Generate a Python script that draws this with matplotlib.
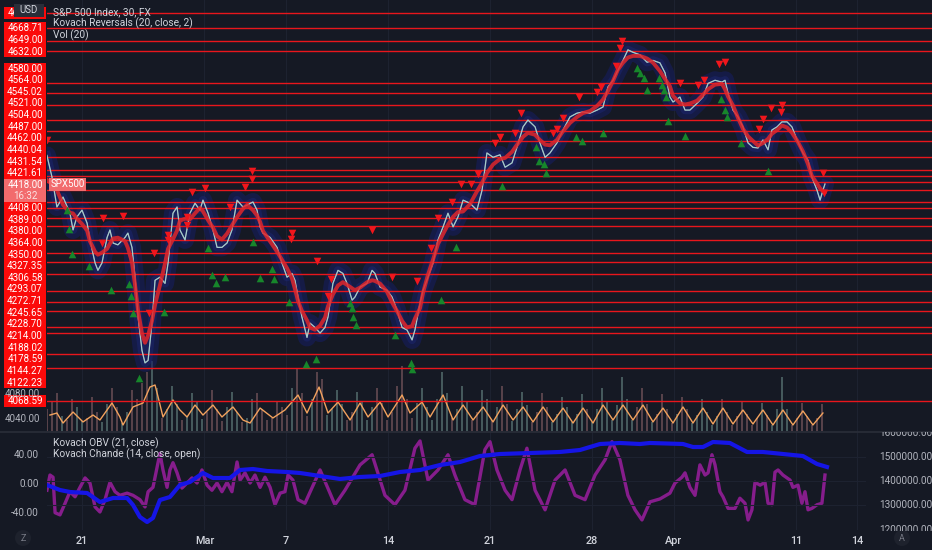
import numpy as np
import pandas as pd
import matplotlib
matplotlib.use("Agg")
import matplotlib.pyplot as plt
from matplotlib.patches import Rectangle, Circle
from matplotlib.transforms import Bbox

plt.rcParams['font.family'] = ['Roboto', 'DejaVu Sans']

# ---------------- data ----------------
x_tick_days = [0, 6, 10, 15, 20, 25, 29, 35, 38]
x_tick_labels = ['21', 'Mar', '7', '14', '21', '28', 'Apr', '11', '14']

# price path: time in trading days from Feb 21, value in index points
price_t = [-1.72, -1.47, -1.23, -0.93, -0.59, -0.44, -0.25, 0.00, 0.25, 0.39,
           0.64, 0.78, 0.98, 1.23, 1.37, 1.52, 1.76, 2.11, 2.25, 2.45,
           2.60, 2.75, 2.94, 3.09, 3.24, 3.43, 3.58, 3.82, 4.07, 4.22,
           4.46, 4.66, 4.80, 5.05, 5.29, 5.54, 5.78, 5.93, 6.18, 6.42,
           6.62, 6.86, 7.11, 7.35, 7.60, 7.89, 8.09, 8.38, 8.58, 8.73,
           8.87, 9.22, 9.56, 9.80, 10.05, 10.29, 10.44, 10.59, 10.78, 11.03,
           11.18, 11.42, 11.67, 11.91, 12.06, 12.30, 12.55, 12.79, 12.99, 13.24,
           13.38, 13.63, 13.97, 14.22, 14.36, 14.61, 14.95, 15.20, 15.44, 15.69,
           15.93, 16.18, 16.32, 16.57, 16.72, 16.96, 17.21, 17.45, 17.70, 17.94,
           18.19, 18.43, 18.68, 19.02, 19.36, 19.61, 19.85, 20.15, 20.49, 20.74,
           21.08, 21.32, 21.62, 21.86, 22.21, 22.45, 22.70, 22.94, 23.28, 23.58,
           23.92, 24.26, 24.56, 24.90, 25.25, 25.54, 25.78, 26.03, 26.27, 26.52,
           26.76, 27.01, 27.35, 27.70, 27.99, 28.33, 28.58, 28.82, 28.97, 29.31,
           29.56, 29.80, 30.15, 30.44, 30.69, 31.03, 31.37, 31.52, 31.67, 31.91,
           32.16, 32.40, 32.65, 32.89, 33.14, 33.38, 33.63, 33.82, 34.07, 34.31,
           34.56, 34.80, 35.05, 35.34, 35.59, 35.78, 36.03, 36.18, 36.32, 36.42]
price_c = [4464, 4429, 4381, 4397, 4371, 4344, 4365, 4376, 4355, 4328,
           4291, 4279, 4291, 4332, 4344, 4323, 4320, 4332, 4339, 4316,
           4268, 4204, 4150, 4130, 4134, 4194, 4263, 4268, 4258, 4291,
           4371, 4381, 4344, 4328, 4371, 4387, 4376, 4392, 4371, 4344,
           4316, 4316, 4323, 4344, 4392, 4381, 4384, 4389, 4376, 4349,
           4339, 4332, 4316, 4291, 4268, 4274, 4263, 4236, 4204, 4171,
           4194, 4187, 4178, 4187, 4204, 4258, 4279, 4274, 4258, 4231,
           4236, 4252, 4258, 4279, 4274, 4252, 4247, 4236, 4215, 4187,
           4183, 4167, 4183, 4226, 4247, 4268, 4291, 4328, 4349, 4371,
           4349, 4365, 4392, 4387, 4376, 4408, 4468, 4461, 4465, 4445,
           4452, 4477, 4510, 4521, 4510, 4484, 4461, 4468, 4484, 4505,
           4526, 4532, 4534, 4532, 4537, 4542, 4574, 4585, 4601, 4617,
           4634, 4630, 4626, 4614, 4617, 4613, 4597, 4558, 4550, 4558,
           4537, 4537, 4548, 4558, 4580, 4585, 4582, 4585, 4564, 4537,
           4526, 4510, 4484, 4477, 4476, 4489, 4473, 4505, 4510, 4518,
           4518, 4510, 4489, 4468, 4456, 4429, 4408, 4392, 4408, 4418]

sell_t = [-1.72, 0.98, 1.03, 2.01, 3.28, 3.53, 4.22, 4.22, 5.15, 5.15,
          5.39, 6.03, 7.25, 7.99, 8.33, 8.33, 10.25, 10.29, 11.52, 12.06,
          12.21, 14.22, 15.20, 16.42, 17.11, 17.45, 18.14, 18.58, 19.07, 19.41,
          20.25, 20.49, 21.23, 21.52, 23.09, 23.28, 23.58, 24.36, 25.25, 25.44,
          26.18, 26.37, 26.47, 29.31, 30.20, 30.49, 31.23, 31.52, 33.19, 33.38,
          33.77, 34.26, 34.31, 36.32, 36.37]
sell_p = [4489, 4323, 4363, 4366, 4210, 4307, 4336, 4328, 4365, 4352,
          4405, 4411, 4381, 4413, 4439, 4426, 4329, 4339, 4294, 4237,
          4265, 4344, 4268, 4262, 4315, 4363, 4389, 4418, 4418, 4434,
          4484, 4493, 4500, 4532, 4500, 4506, 4524, 4558, 4566, 4574,
          4608, 4637, 4648, 4580, 4577, 4585, 4611, 4614, 4506, 4522,
          4540, 4534, 4545, 4435, 4403]

buy_t = [-0.74, -0.64, -0.49, 0.34, 1.42, 2.30, 2.40, 2.50, 2.79, 4.02,
         6.18, 6.37, 6.57, 7.01, 8.38, 8.73, 9.31, 9.41, 10.15, 10.98,
         11.47, 13.14, 13.24, 13.28, 13.43, 15.34, 16.13, 16.18, 17.60, 18.33,
         20.59, 22.25, 22.40, 22.65, 22.75, 24.22, 24.51, 25.54, 27.21, 27.35,
         27.55, 27.70, 28.28, 28.43, 28.53, 28.63, 28.73, 29.56, 31.32, 31.52,
         31.62, 32.30, 33.63]
buy_p = [4376, 4345, 4305, 4286, 4247, 4257, 4237, 4210, 4105, 4212,
         4315, 4271, 4258, 4268, 4324, 4266, 4281, 4265, 4228, 4128,
         4136, 4226, 4218, 4204, 4191, 4175, 4130, 4120, 4231, 4316,
         4415, 4477, 4455, 4450, 4435, 4493, 4487, 4500, 4605, 4596,
         4588, 4569, 4588, 4577, 4569, 4558, 4519, 4495, 4555, 4537,
         4526, 4484, 4439]

levels = [4693.00, 4668.71, 4649.00, 4632.00, 4580.00, 4564.00, 4545.02, 4521.00,
          4504.00, 4487.00, 4462.00, 4440.04, 4431.54, 4421.61, 4408.00, 4389.00,
          4380.00, 4364.00, 4350.00, 4327.35, 4306.58, 4293.07, 4272.71, 4245.65,
          4228.70, 4214.00, 4188.02, 4178.59, 4144.27, 4122.23, 4068.59]
last_price = 4418.00
last_time = '16:32'
symbol = 'SPX500'
price_ticks = [4080.00, 4040.00]

volume = [20, 28, 35, 14, 10, 30, 22, 9, 12, 32,
          18, 8, 25, 40, 22, 7, 18, 38, 30, 45,
          55, 65, 40, 12, 20, 42, 25, 10, 14, 35,
          28, 11, 18, 38, 20, 9, 22, 36, 18, 8,
          12, 30, 35, 20, 10, 12, 28, 22, 15, 40,
          58, 35, 14, 30, 55, 48, 15, 20, 38, 25,
          10, 18, 36, 28, 10, 22, 40, 26, 10, 18,
          42, 60, 30, 12, 26, 40, 22, 10, 30, 55,
          35, 12, 20, 42, 28, 10, 18, 38, 30, 10,
          22, 42, 25, 9, 20, 36, 24, 8, 18, 35,
          22, 8, 16, 32, 22, 8, 16, 34, 20, 8,
          20, 40, 28, 10, 24, 50, 30, 10, 22, 40,
          25, 8, 16, 34, 20, 7, 16, 32, 20, 7,
          15, 30, 18, 6, 14, 30, 18, 6, 14, 28,
          16, 6, 12, 26, 15, 6, 20, 50, 20, 6,
          12, 26, 14, 6, 12, 25]

vol_ma_t = [-1.57, -1.23, -0.93, -0.44, 0.05, 0.54, 0.88, 1.47, 1.86, 2.01,
            2.50, 2.99, 3.33, 3.58, 3.73, 3.97, 4.46, 4.80, 5.15, 5.54,
            5.93, 6.42, 6.86, 7.40, 7.89, 8.24, 8.73, 9.36, 9.95, 10.59,
            11.03, 11.62, 12.06, 12.55, 13.14, 13.63, 14.02, 14.61, 15.00, 15.69,
            16.08, 16.67, 17.06, 17.70, 18.19, 18.68, 19.17, 19.66, 20.15, 20.64,
            21.13, 21.62, 22.11, 22.60, 23.09, 23.58, 24.07, 24.56, 25.05, 25.54,
            26.03, 26.52, 27.01, 27.50, 27.99, 28.48, 28.97, 29.46, 29.95, 30.44,
            30.93, 31.42, 31.91, 32.40, 32.89, 33.38, 33.87, 34.36, 34.85, 35.34,
            35.83, 36.32]
vol_ma = [14.8, 16.7, 7.4, 17.6, 8.4, 14.8, 10.2, 26.0, 13.0, 5.6,
          22.3, 26.0, 40.8, 42.7, 31.6, 13.0, 28.8, 19.5, 13.0, 24.1,
          14.8, 24.1, 13.0, 22.3, 10.2, 7.4, 21.3, 12.1, 19.5, 33.4,
          16.7, 40.8, 16.7, 26.9, 10.2, 26.0, 13.0, 26.9, 13.0, 33.4,
          16.7, 26.9, 13.0, 33.4, 10.2, 24.1, 10.2, 22.3, 8.4, 24.1,
          10.2, 22.3, 8.4, 22.3, 8.4, 21.3, 7.4, 21.3, 7.4, 24.1,
          10.2, 24.1, 10.2, 24.1, 8.4, 21.3, 7.4, 22.3, 7.4, 21.3,
          6.5, 21.3, 6.5, 19.5, 6.5, 19.5, 5.6, 19.5, 5.6, 18.6,
          5.6, 16.7]

obv_t = [-1.72, -1.08, -0.59, 0.25, 0.88, 1.52, 2.21, 2.50, 2.84, 3.19,
         3.48, 3.82, 4.31, 4.80, 5.29, 5.93, 6.42, 7.25, 7.75, 8.38,
         9.07, 10.05, 10.69, 11.67, 12.65, 13.63, 14.61, 15.59, 16.57, 17.55,
         18.53, 19.51, 20.49, 21.96, 23.43, 24.41, 25.39, 26.37, 27.35, 27.84,
         29.46, 29.95, 30.44, 30.93, 31.76, 32.60, 33.38, 34.36, 35.34, 36.03,
         36.52]
obv = [1384300, 1363600, 1355400, 1351200, 1314000, 1330600, 1330600, 1301700, 1252100, 1231400,
       1248000, 1322300, 1334700, 1384300, 1396700, 1433900, 1413200, 1413200, 1446300, 1450400,
       1442200, 1438000, 1433900, 1421500, 1409100, 1417400, 1421500, 1438000, 1446300, 1466900,
       1479300, 1504100, 1512400, 1516500, 1520700, 1528900, 1553700, 1557900, 1553700, 1557900,
       1553700, 1541300, 1541300, 1562000, 1557900, 1520700, 1520700, 1512400, 1504100, 1471100,
       1458700]

chande_t = [-1.72, -1.57, -1.42, -1.32, -1.08, -0.83, -0.59, -0.34, -0.10, 0.15,
            0.39, 0.64, 0.88, 1.13, 1.37, 1.62, 1.86, 2.21, 2.50, 2.84,
            3.09, 3.24, 3.48, 3.68, 3.82, 3.97, 4.17, 4.31, 4.46, 4.66,
            4.90, 5.15, 5.39, 5.64, 5.88, 6.13, 6.37, 6.62, 6.86, 7.11,
            7.35, 7.60, 7.75, 7.99, 8.24, 8.48, 8.73, 8.97, 9.22, 9.46,
            9.71, 9.95, 10.10, 10.34, 10.59, 10.93, 11.67, 12.40, 12.89, 13.63,
            14.22, 14.85, 15.34, 15.83, 16.32, 16.57, 16.96, 17.45, 17.94, 18.28,
            18.77, 19.26, 19.75, 20.00, 20.34, 20.74, 21.08, 21.47, 21.81, 22.21,
            22.70, 23.19, 23.68, 24.17, 24.66, 25.15, 25.64, 25.98, 26.37, 26.76,
            27.11, 27.45, 27.84, 28.33, 28.82, 29.07, 29.41, 29.56, 29.80, 30.05,
            30.29, 30.54, 30.69, 30.88, 31.03, 31.27, 31.42, 31.67, 32.01, 32.25,
            32.50, 32.65, 32.84, 32.99, 33.24, 33.48, 33.63, 33.82, 33.97, 34.12,
            34.36, 34.71, 34.85, 35.10, 35.29, 35.44, 35.59, 35.78, 36.03, 36.27,
            36.42]
chande = [-10, 11, 8, -41, -44, -28, -12, -19, -6, 7,
          0, -33, -40, -23, 1, -12, -17, -14, -17, -23,
          -33, -12, -6, 22, 41, 18, -6, 18, 28, 14,
          -7, 0, 7, 0, 18, -3, -10, 0, -12, 1,
          -12, 29, 4, 14, 0, 11, -6, 8, -6, -30,
          -14, -12, 11, 4, -23, -28, 18, -30, -10, 25,
          39, -17, -30, -10, 48, 58, 4, 18, 39, 11,
          -23, -30, 46, 57, 18, -10, -23, 18, 48, -10,
          -37, 4, 18, -17, -23, 11, 32, 57, 32, -17,
          -37, -51, -26, -22, -14, 0, 8, 14, -6, -17,
          25, 11, 14, 39, 25, -12, -19, -35, -35, -21,
          -28, -51, -37, 1, -3, 1, -28, -30, 15, 18,
          11, 4, -6, -3, -28, -12, -37, -35, -30, -28,
          11]
chande_ticks = [40, 0, -40]
obv_ticks = [1600000, 1500000, 1400000, 1300000, 1200000]

legend_main = ['S&P 500 Index, 30, FX', 'Kovach Reversals (20, close, 2)', 'Vol (20)']
legend_low = ['Kovach OBV (21, close)', 'Kovach Chande (14, close, open)']
currency = 'USD'

# ---------------- layout / style ----------------
W, H, DPI = 932, 550, 100
BG = '#151924'
GRID = '#1d2230'
TXT = '#b2b5be'
LEG = '#d1d4dc'
LINE_RED = '#e8161c'
LBL_RED = '#fb0a0a'
LAST_RED = '#f26b6d'

PLOT_L, SPLIT_Y, LOW_BOT, LOW_R = 47, 431, 530, 866
DAY0_PX, DAY_PX = 82.0, 20.4
PRICE_REF, PRICE_REF_Y, PRICE_PER_PX = 4418.0, 184.0, 1.61
CH_ZERO_Y, CH_PER_PX = 483.0, 1.38
OBV_REF, OBV_REF_Y, OBV_PER_PX = 1500000.0, 457.0, 100000 / 24.2
VOL_T0, VOL_STEP, VOL_TOP = -1.716, 0.245, 400


def day_at(px):
    return (px - DAY0_PX) / DAY_PX


def rect(l, t, r, b):
    return [l / W, 1 - b / H, (r - l) / W, (b - t) / H]


fig = plt.figure(figsize=(W / DPI, H / DPI), dpi=DPI)
fig.patch.set_facecolor(BG)

# ---- main price panel ----
ax = fig.add_axes(rect(PLOT_L, 0, W, SPLIT_Y))
axv = ax.twinx()
for a in (ax, axv):
    a.patch.set_visible(False)
    for s in a.spines.values():
        s.set_visible(False)
    a.set_yticks([])
    a.tick_params(axis='x', length=0, labelbottom=False)
ax.set_zorder(2)
axv.set_zorder(1)
ax.set_xlim(day_at(PLOT_L), day_at(W))
ax.set_ylim(PRICE_REF - (SPLIT_Y - PRICE_REF_Y) * PRICE_PER_PX,
            PRICE_REF + PRICE_REF_Y * PRICE_PER_PX)
axv.set_ylim(0, VOL_TOP)

for d in x_tick_days:
    axv.axvline(d, color=GRID, lw=0.8, zorder=0)

# volume
vt = VOL_T0 + VOL_STEP * np.arange(len(volume))
p_now = np.interp(vt, price_t, price_c)
p_prev = np.interp(vt - VOL_STEP, price_t, price_c)
vcols = np.where(p_now >= p_prev, '#56706f', '#6e5157')
axv.bar(vt, volume, width=0.09, color=vcols, alpha=0.75, zorder=1)
axv.plot(vol_ma_t, vol_ma, color='#f2a25e', lw=1.0, zorder=2)

# glow + price + smoothed line
ax.plot(price_t, price_c, color='#151d5e', lw=13, alpha=0.6,
        solid_joinstyle='round', solid_capstyle='round', zorder=1)
ax.plot(price_t, price_c, color='#1f2b85', lw=6, alpha=0.35,
        solid_joinstyle='round', zorder=1.5)
for lv in levels:
    ax.axhline(lv, color=LINE_RED, lw=1.0, zorder=2)
ax.plot(price_t, price_c, color='#c9d3d4', lw=0.9, zorder=3)
ax.plot(price_t, price_c, color='#5fc4b8', lw=0.4, alpha=0.6, zorder=3.1)
smooth = pd.Series(price_c, dtype=float).rolling(5, center=True, min_periods=1).mean()
ax.plot(price_t, smooth, color='#e0262b', lw=2.8, alpha=0.85, zorder=4)

n = min(len(sell_t), len(sell_p))
ax.scatter(sell_t[:n], sell_p[:n], marker='v', s=30, color='#f0161c', linewidths=0, zorder=5)
n = min(len(buy_t), len(buy_p))
ax.scatter(buy_t[:n], buy_p[:n], marker='^', s=30, color='#17862b', linewidths=0, zorder=5)

# ---- lower panel ----
al = fig.add_axes(rect(PLOT_L, SPLIT_Y, LOW_R, LOW_BOT))
al.set_xlim(day_at(PLOT_L), day_at(LOW_R))
al.set_ylim((CH_ZERO_Y - LOW_BOT) * CH_PER_PX, (CH_ZERO_Y - SPLIT_Y) * CH_PER_PX)
al2 = al.twinx()
al2.set_ylim(OBV_REF - (LOW_BOT - OBV_REF_Y) * OBV_PER_PX,
             OBV_REF + (OBV_REF_Y - SPLIT_Y) * OBV_PER_PX)
for a in (al, al2):
    a.patch.set_visible(False)
    for s in a.spines.values():
        s.set_visible(False)
al2.set_yticks([])
for d in x_tick_days:
    al.axvline(d, color=GRID, lw=0.8, zorder=0)
for v in obv_ticks[1:4]:
    al2.axhline(v, color=GRID, lw=0.8, zorder=0)
al.plot(chande_t, chande, color='#861d8c', lw=2.4, zorder=3)
al2.plot(obv_t, obv, color='#1515e6', lw=3.0, zorder=4)

al.set_yticks(chande_ticks)
al.set_yticklabels([f'{v:.2f}' for v in chande_ticks])
al.tick_params(axis='y', length=0, pad=6, labelsize=7.2, labelcolor=TXT)
al.set_xticks(x_tick_days)
al.set_xticklabels(x_tick_labels)
al.tick_params(axis='x', length=0, pad=4, labelsize=7.8, labelcolor=LEG)
for lbl in al.get_xticklabels():
    lbl.set_fontweight('medium')

# ---- overlay (labels, legends) ----
ov = fig.add_axes([0, 0, 1, 1])
ov.set_xlim(0, W)
ov.set_ylim(H, 0)
ov.axis('off')
ov.patch.set_visible(False)
ov.set_zorder(10)

ov.plot([0, W], [SPLIT_Y + 0.5] * 2, color='#2a2e39', lw=1.2)


def price_y(p):
    return H - ax.transData.transform((0, p))[1]


for p in price_ticks:
    ov.text(40, price_y(p), f'{p:.2f}', ha='right', va='center', color=TXT, fontsize=7)

LH = 11.64
items = [{'c': price_y(lv), 'h': LH, 'kind': 'lvl', 'text': f'{lv:.2f}'} for lv in levels]
last_y = price_y(last_price)
items.append({'c': last_y + 5.7, 'h': 23.0, 'kind': 'last', 'text': f'{last_price:.2f}'})
items.sort(key=lambda d: d['c'])


def span(cl):
    tot = sum(i['h'] for i in cl)
    mid = (cl[0]['c'] + cl[-1]['c']) / 2
    return mid - tot / 2, mid + tot / 2


def split(cl):
    best, best_gap = None, -1.0
    for i in range(1, len(cl)):
        gap = span(cl[i:])[0] - span(cl[:i])[1]
        if gap >= 0 and gap > best_gap:
            best, best_gap = i, gap
    if best is None:
        return [cl]
    return split(cl[:best]) + split(cl[best:])


clusters = split(items)

for cl in clusters:
    top = span(cl)[0]
    for it in cl:
        if it['kind'] == 'lvl':
            ov.add_patch(Rectangle((4, top), 42, it['h'], facecolor=LBL_RED, edgecolor='none'))
            ov.text(25, top + it['h'] / 2, it['text'], ha='center', va='center',
                    color='white', fontsize=7)
        else:
            ov.add_patch(Rectangle((4, top), 42, it['h'], facecolor=LAST_RED, edgecolor='none'))
            ov.text(25, top + 6, it['text'], ha='center', va='center', color='white', fontsize=7)
            ov.text(25, top + 16.5, last_time, ha='center', va='center', color='#fbe3e3', fontsize=7)
        top += it['h']

ov.add_patch(Rectangle((49, last_y - 6.5), 37, 13, facecolor=LAST_RED, edgecolor='none'))
ov.text(67.5, last_y, symbol, ha='center', va='center', color='white', fontsize=7)

# currency badge sits on top of the first price label
ov.add_patch(Rectangle((14, 3.5), 30, 13.5, facecolor='#2a2e39', edgecolor='none', zorder=8))
ov.text(29, 10.3, currency, ha='center', va='center', color=LEG, fontsize=7, zorder=9)

for i, s in enumerate(legend_main):
    ov.text(53, 12 + 11.5 * i, s, ha='left', va='center', color=LEG, fontsize=7.3)
for i, s in enumerate(legend_low):
    ov.text(53, 443 + 11.5 * i, s, ha='left', va='center', color=LEG, fontsize=7.3)

clip = Bbox([[LOW_R, H - LOW_BOT - 1], [W, H - SPLIT_Y - 1]])
for v in obv_ticks:
    ypx = H - al2.transData.transform((0, v))[1]
    t = ov.text(879, ypx, f'{v:.2f}', ha='left', va='center', color=TXT, fontsize=7.2)
    t.set_clip_path(None)
    t.set_clip_box(clip)
    t.set_clip_on(True)

for cx, s in ((23, 'Z'), (902, 'A')):
    ov.add_patch(Circle((cx, 538), 8, facecolor='#1e222d', edgecolor='none'))
    ov.text(cx, 538.5, s, ha='center', va='center', color='#787b86', fontsize=6.5)

fig.savefig('out.png', dpi=DPI, facecolor=BG)
